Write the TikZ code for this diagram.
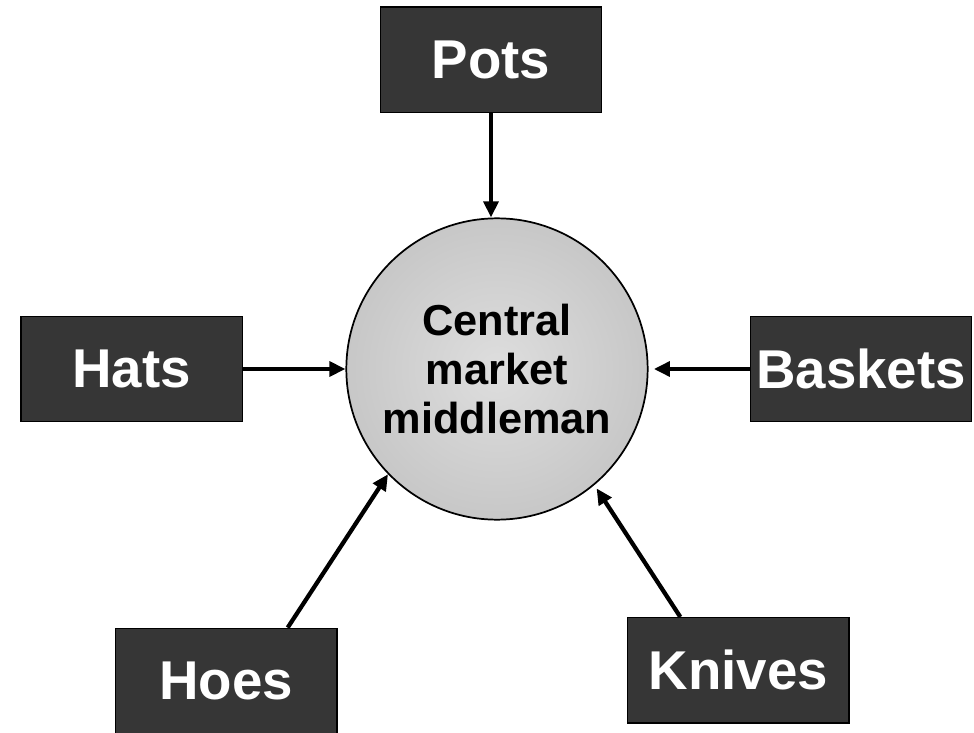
\documentclass[tikz,border=0pt]{standalone}
\usepackage{fontspec}
\setmainfont{Liberation Sans}
\usepackage{tikz}
\usetikzlibrary{arrows.meta,positioning,shapes.geometric}
\tikzset{>/.tip={Triangle[length=12pt,width=11pt]}}
\definecolor{boxfill}{HTML}{363636}
\definecolor{midlight}{HTML}{DEDEDE}
\definecolor{midedge}{HTML}{B3B3B3}
\pgfdeclareradialshading{midshade}{\pgfpoint{0bp}{0bp}}{color(0bp)=(midlight); color(47bp)=(midedge); color(50bp)=(midedge)}
\tikzset{goods/.style={draw=black,line width=1pt,fill=boxfill,text=white,
    minimum width=166pt,minimum height=79pt,inner sep=0pt,
    font=\fontsize{41}{48}\selectfont\bfseries}}

\begin{document}
\begin{tikzpicture}[on grid,line width=3.2pt,font=\bfseries]
        \useasboundingbox (-372.75pt,-272.25pt) rectangle (357.75pt,276.75pt);
        \node(mid)[circle,draw,line width=1.3pt,shading=midshade,minimum size=226pt,
          inner sep=0pt,align=center,font=\fontsize{32.5}{36.5}\selectfont\bfseries]
          {Central\\market\\middleman};
        \node(pots)[goods,above=232pt of mid,xshift=-4.5pt]{Pots};
        \node(hats)[goods,left=274pt of mid]{Hats};
        \node(baskets)[goods,right=273pt of mid]{Baskets};
        \node(hoes)[goods,below left=234pt and 203pt of mid]{Hoes};
        \node(knives)[goods,below right=226pt and 181pt of mid]{Knives};
        \draw[->] (pots.south) -- (pots.south |- mid.north);
        \draw[->] (hats.east) -- (mid.west);
        \draw[->,shorten >=4pt] (baskets.west) -- (mid.east);
        \draw[->] ([xshift=46pt]hoes.north) -- (mid.224);
        \draw[->,shorten >=3pt] ([xshift=-43.5pt]knives.north) -- (mid.310);
      \end{tikzpicture}
\end{document}
